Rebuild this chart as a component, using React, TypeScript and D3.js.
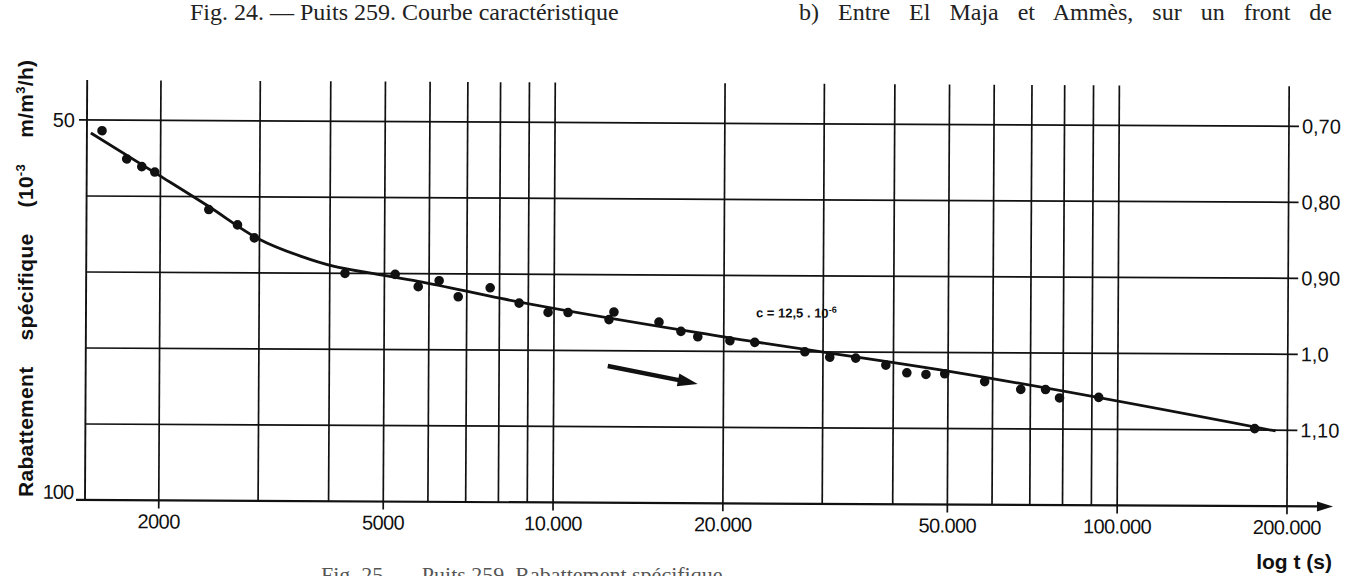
import React from 'react';
import * as d3 from 'd3';

// measured points: time (s) and specific drawdown on the right-hand scale
const pointTimes = [1574, 1742, 1853, 1954, 2438, 2742, 2938, 4256, 5224, 5741, 6252, 6761, 7701, 8670, 9759, 10588, 12515, 12770, 15350, 16790, 17990, 20510, 22700, 27860, 30840, 34290, 38780, 42260, 45690, 49330, 58070, 67300, 74470, 78860, 92530, 175000];
const pointValues = [0.714, 0.751, 0.761, 0.768, 0.817, 0.837, 0.854, 0.900, 0.901, 0.917, 0.909, 0.930, 0.918, 0.938, 0.950, 0.950, 0.959, 0.949, 0.962, 0.974, 0.981, 0.986, 0.988, 1.000, 1.007, 1.008, 1.017, 1.027, 1.029, 1.028, 1.038, 1.048, 1.048, 1.059, 1.058, 1.098];

// hand-drawn characteristic curve
const curveTimes = [1504, 1986, 2438, 2985, 3558, 4074, 4677, 5741, 8054, 20000, 50580, 190600];
const curveValues = [0.717, 0.772, 0.813, 0.855, 0.878, 0.891, 0.899, 0.910, 0.932, 0.981, 1.025, 1.101];

const gridTimes = [2000, 3000, 4000, 5000, 6000, 7000, 8000, 9000, 10000, 20000, 30000, 40000, 50000, 60000, 70000, 80000, 90000, 100000, 200000];
const tickTimes = [2000, 5000, 10000, 20000, 50000, 100000, 200000];
const tickLabels = ['2000', '5000', '10.000', '20.000', '50.000', '100.000', '200.000'];

const rightTicks = [0.7, 0.8, 0.9, 1.0, 1.1];
const rightLabels = ['0,70', '0,80', '0,90', '1,0', '1,10'];
const leftLabels = ['50', '100'];

// arrow (tail -> tip) and slope note, in data units
const arrowTimes = [12465, 18000];
const arrowValues = [1.02, 1.043];
const noteTime = 22800;
const noteValue = 0.955;

const W = 1347;
const H = 576;
const sans = "'Liberation Sans', Arial, sans-serif";
const serif = "'Liberation Serif', 'Times New Roman', serif";
const headLen = 20;

export default function App() {
  const x = d3.scaleLog().domain([1480, 200000]).range([85, 1287]);
  const y = d3.scaleLinear().domain([0.7, 1.2]).range([120, 500]);

  const [y0, y1] = y.range();
  const xL = x.range()[0];
  const xR = x.range()[1];
  const gridTop = y0 - 40;

  const curve = d3
    .line<number>()
    .x((_, i) => x(curveTimes[i]))
    .y((_, i) => y(curveValues[i]))
    .curve(d3.curveMonotoneX)(curveTimes);

  const ax1 = x(arrowTimes[0]);
  const ay1 = y(arrowValues[0]);
  const tx = x(arrowTimes[1]);
  const ty = y(arrowValues[1]);
  const len = Math.hypot(tx - ax1, ty - ay1);
  const ux = (tx - ax1) / len;
  const uy = (ty - ay1) / len;
  const bx = tx - ux * headLen;
  const by = ty - uy * headLen;
  const head = `M${tx},${ty} L${bx - uy * 6.5},${by + ux * 6.5} L${bx + uy * 6.5},${by - ux * 6.5} Z`;

  return (
    <svg
      width={W}
      height={H}
      style={{ position: 'absolute', left: 0, top: 0, background: '#fff' }}
    >
      <text x={190} y={20} fontFamily={serif} fontSize={24} fill="#222">
        Fig. 24. — Puits 259. Courbe caractéristique
      </text>
      <text
        x={1332}
        y={20}
        textAnchor="end"
        fontFamily={serif}
        fontSize={24}
        fill="#222"
        wordSpacing={13}
      >
        b) Entre El Maja et Ammès, sur un front de
      </text>

      <g transform={`rotate(0.3, ${xL}, ${y1})`} stroke="#111" fill="none">
        {/* vertical grid */}
        {gridTimes.map((t) => (
          <line key={t} x1={x(t)} x2={x(t)} y1={gridTop} y2={y1} strokeWidth={1.7} />
        ))}
        <line x1={xL} x2={xL} y1={gridTop} y2={y1} strokeWidth={1.9} />

        {/* horizontal grid */}
        {rightTicks.map((v) => (
          <line key={v} x1={v === 0.7 ? xL - 8 : xL} x2={xR + 10} y1={y(v)} y2={y(v)} strokeWidth={1.7} />
        ))}

        {/* x axis with arrow */}
        <line x1={xL - 9} x2={xR + 32} y1={y1} y2={y1} strokeWidth={2.2} />
        <path d={`M${xR + 46},${y1} L${xR + 30},${y1 - 5} L${xR + 30},${y1 + 5} Z`} fill="#111" stroke="none" />
        {tickTimes.map((t) => (
          <line key={t} x1={x(t)} x2={x(t)} y1={y1} y2={y1 + 8} strokeWidth={1.7} />
        ))}

        {/* fitted curve */}
        <path d={curve || ''} strokeWidth={2.8} />

        {/* measured points */}
        {pointTimes.map((t, i) => (
          <circle key={i} cx={x(t)} cy={y(pointValues[i])} r={4.8} fill="#111" stroke="none" />
        ))}

        {/* direction arrow */}
        <line x1={ax1} y1={ay1} x2={bx + ux * 2} y2={by + uy * 2} strokeWidth={4.5} />
        <path d={head} fill="#111" stroke="none" />

        <text
          x={x(noteTime)}
          y={y(noteValue)}
          fontFamily={sans}
          fontWeight="bold"
          fontSize={13}
          fill="#111"
          stroke="none"
        >
          c = 12,5 . 10
          <tspan dy={-5} fontSize={9}>-6</tspan>
        </text>

        {/* tick labels */}
        <g fill="#111" stroke="none" fontFamily={sans} fontSize={20}>
          {tickTimes.map((t, i) => (
            <text key={t} x={x(t)} y={y1 + 28} textAnchor="middle" letterSpacing={-0.6}>
              {tickLabels[i]}
            </text>
          ))}
          {rightTicks.map((v, i) => (
            <text key={v} x={xR + 13} y={y(v) + 7}>
              {rightLabels[i]}
            </text>
          ))}
          <text x={xL - 12} y={y0 + 7} textAnchor="end">{leftLabels[0]}</text>
          <text x={xL - 12} y={y1 - 1} textAnchor="end" letterSpacing={-1}>{leftLabels[1]}</text>
        </g>
      </g>

      <text
        transform="translate(33, 497) rotate(-90)"
        fontFamily={sans}
        fontWeight="bold"
        fontSize={21}
        fill="#111"
        letterSpacing={0.3}
        wordSpacing={20}
      >
        Rabattement spécifique (10
        <tspan dy={-8} fontSize={13}>-3</tspan>
        <tspan dy={8}> m/m</tspan>
        <tspan dy={-8} fontSize={13}>3</tspan>
        <tspan dy={8}>/h)</tspan>
      </text>

      <text x={1332} y={569} textAnchor="end" fontFamily={sans} fontWeight="bold" fontSize={21} fill="#111">
        log t (s)
      </text>

      <text x={321} y={582} fontFamily={serif} fontSize={22} fill="#555">
        Fig. 25. — Puits 259. Rabattement spécifique
      </text>
    </svg>
  );
}
